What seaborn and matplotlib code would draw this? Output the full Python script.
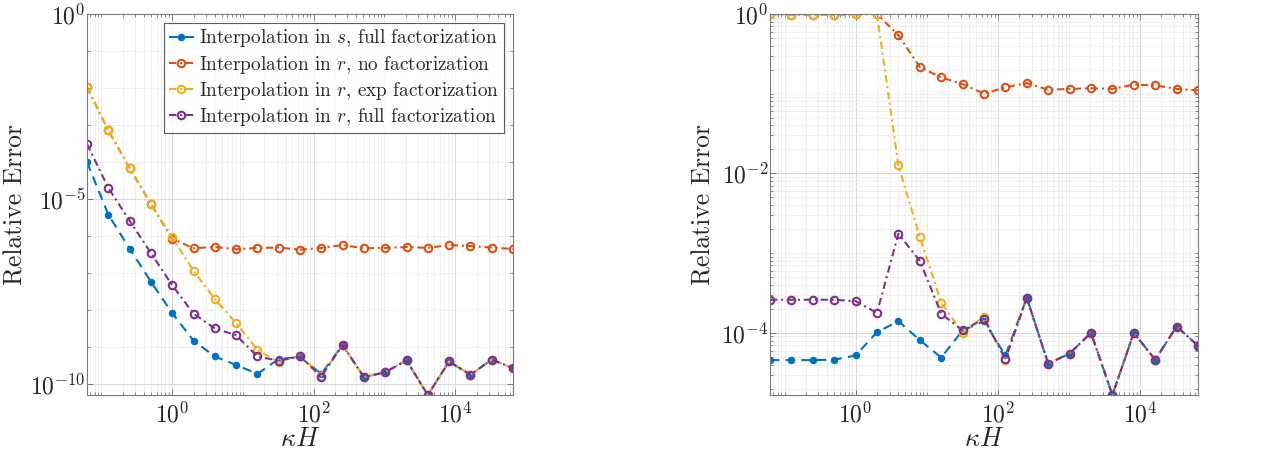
import numpy as np
import pandas as pd
import matplotlib
matplotlib.use('Agg')
import matplotlib.pyplot as plt
import matplotlib.ticker as mticker
import seaborn as sns

sns.set_style("ticks")
plt.rcParams['font.family'] = ['cmr10', 'DejaVu Serif']
plt.rcParams['mathtext.fontset'] = 'cm'
plt.rcParams['axes.formatter.use_mathtext'] = True

# kappa*H values: 2^-4 ... 2^16
kH = 2.0 ** np.arange(-4, 17)

names = ['Interpolation in $s$, full factorization',
         'Interpolation in $r$, no factorization',
         'Interpolation in $r$, exp factorization',
         'Interpolation in $r$, full factorization']

# left panel
left_s_full = [1.0e-4, 3.8e-6, 4.6e-7, 5.9e-8, 8.3e-9, 1.5e-9, 5.6e-10, 3.3e-10, 1.9e-10, 4.8e-10, 5.4e-10,
               1.9e-10, 1.15e-9, 1.55e-10, 2.1e-10, 4.4e-10, 5.1e-11, 4.1e-10, 1.8e-10, 4.6e-10, 2.7e-10]
left_r_none = [1.05e-2, 7.2e-4, 6.9e-5, 7.4e-6, 8.5e-7, 4.7e-7, 5.1e-7, 4.4e-7, 4.8e-7, 4.9e-7, 4.3e-7,
               4.8e-7, 5.75e-7, 4.7e-7, 4.8e-7, 5.1e-7, 4.8e-7, 5.75e-7, 5.4e-7, 4.9e-7, 4.5e-7]
left_r_exp = [1.05e-2, 7.2e-4, 6.9e-5, 7.4e-6, 9.3e-7, 1.15e-7, 2.0e-8, 4.5e-9, 8.5e-10, 3.9e-10, 5.9e-10,
              1.7e-10, 1.15e-9, 1.55e-10, 2.1e-10, 4.4e-10, 5.1e-11, 4.1e-10, 1.8e-10, 4.6e-10, 2.7e-10]
left_r_full = [3.1e-4, 2.0e-5, 2.6e-6, 3.5e-7, 4.7e-8, 8.1e-9, 3.2e-9, 2.1e-9, 5.6e-10, 4.3e-10, 5.6e-10,
               1.6e-10, 1.15e-9, 1.55e-10, 2.1e-10, 4.4e-10, 5.1e-11, 4.1e-10, 1.8e-10, 4.6e-10, 2.7e-10]

# right panel
right_s_full = [4.55e-5, 4.55e-5, 4.55e-5, 4.6e-5, 5.2e-5, 1.02e-4, 1.4e-4, 8.1e-5, 4.9e-5, 1.07e-4, 1.4e-4,
                5.2e-5, 2.75e-4, 4.1e-5, 5.5e-5, 1.0e-4, 1.66e-5, 1.0e-4, 4.6e-5, 1.2e-4, 6.9e-5]
right_r_none = [1.0, 0.98, 0.98, 0.98, 0.99, 1.0, 0.54, 0.216, 0.16, 0.132, 0.100,
                0.12, 0.136, 0.112, 0.115, 0.117, 0.115, 0.13, 0.127, 0.115, 0.11]
right_r_exp = [1.0, 0.98, 0.98, 0.98, 0.99, 1.0, 1.26e-2, 1.6e-3, 2.4e-4, 1.0e-4, 1.6e-4,
               4.6e-5, 2.75e-4, 4.1e-5, 5.5e-5, 1.0e-4, 1.66e-5, 1.0e-4, 4.6e-5, 1.2e-4, 6.9e-5]
right_r_full = [2.6e-4, 2.6e-4, 2.6e-4, 2.6e-4, 2.5e-4, 1.78e-4, 1.75e-3, 8.0e-4, 1.74e-4, 1.07e-4, 1.5e-4,
                4.7e-5, 2.75e-4, 4.1e-5, 5.5e-5, 1.0e-4, 1.66e-5, 1.0e-4, 4.6e-5, 1.2e-4, 6.9e-5]

colors = ['#0072BD', '#D95319', '#EDB120', '#7E2F8E']
styles = [(0, (4.5, 3)), (0, (3.5, 1.8, 1, 1.8)), (0, (3.5, 1.8, 1, 1.8)), (0, (3.5, 1.8, 1, 1.8))]

panels = [[left_s_full, left_r_none, left_r_exp, left_r_full],
          [right_s_full, right_r_none, right_r_exp, right_r_full]]

fig = plt.figure(figsize=(12.87, 4.63), dpi=100)
ax1 = fig.add_axes([87/1287, 68/463, 426/1287, 381/463])
ax2 = fig.add_axes([770/1287, 68/463, 428/1287, 381/463])

fmt = mticker.FuncFormatter(lambda v, p: r'$10^{%d}$' % int(round(np.log10(v))))

for ax, series in zip([ax1, ax2], panels):
    for i, vals in enumerate(series):
        if i == 0:
            mk = dict(marker='o', markersize=4.6, markerfacecolor=colors[i], markeredgecolor=colors[i], markeredgewidth=0.8)
        else:
            mk = dict(marker='o', markersize=5.4, markerfacecolor='none', markeredgecolor=colors[i], markeredgewidth=1.5)
        sns.lineplot(x=kH, y=vals, ax=ax, color=colors[i], linestyle=styles[i], lw=1.5,
                     label=names[i], legend=False, **mk)
    ax.set_xscale('log')
    ax.set_yscale('log')
    ax.set_xlim(kH[0], kH[-1])
    ax.xaxis.set_major_locator(mticker.FixedLocator([1e-2, 1e0, 1e2, 1e4]))
    ax.xaxis.set_minor_locator(mticker.LogLocator(base=10, subs=np.arange(1, 10), numticks=40))
    ax.xaxis.set_major_formatter(fmt)
    ax.xaxis.set_minor_formatter(mticker.NullFormatter())
    ax.yaxis.set_major_formatter(fmt)
    ax.yaxis.set_minor_formatter(mticker.NullFormatter())
    ax.set_axisbelow(True)
    ax.grid(True, which='major', color='#d9d9d9', lw=0.7)
    ax.grid(True, which='minor', color='#ededed', lw=0.6)
    ax.tick_params(which='both', direction='in', top=True, right=True, labelsize=17,
                   colors='#7a7a7a', labelcolor='#262626')
    ax.tick_params(axis='y', which='both', pad=1)
    ax.tick_params(axis='x', which='both', pad=5)
    ax.tick_params(which='major', length=4, width=0.7)
    ax.tick_params(which='minor', length=2, width=0.6)
    for sp in ax.spines.values():
        sp.set_color('#7a7a7a')
        sp.set_linewidth(0.8)
    ax.set_xlabel(r'$\kappa H$', fontsize=19, color='#262626', labelpad=0)
    ax.set_ylabel('Relative Error', fontsize=18.5, color='#262626')

ax1.set_ylim(min(np.min(s) for s in panels[0]), 1.0)
ax1.yaxis.set_major_locator(mticker.FixedLocator([1e-10, 1e-5, 1e0]))
ax1.yaxis.set_minor_locator(mticker.LogLocator(base=10, subs=(1.0,), numticks=40))
ax1.yaxis.labelpad = 2

ax2.set_ylim(min(np.min(s) for s in panels[1]), 1.0)
ax2.yaxis.set_major_locator(mticker.FixedLocator([1e-4, 1e-2, 1e0]))
ax2.yaxis.set_minor_locator(mticker.LogLocator(base=10, subs=np.arange(1, 10), numticks=40))
ax2.yaxis.labelpad = 4

leg = ax1.legend(loc='upper right', fontsize=13.8, frameon=True, fancybox=False,
                 borderaxespad=0.45, handlelength=1.3, handletextpad=0.3, labelspacing=0.22,
                 borderpad=0.25)
leg.get_frame().set_edgecolor('#333333')
leg.get_frame().set_linewidth(0.8)

fig.savefig('out.png', dpi=100)
